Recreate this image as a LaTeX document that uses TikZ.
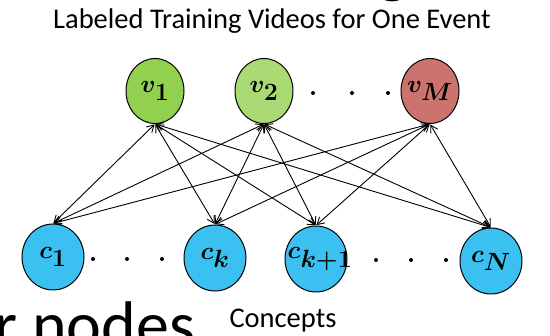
\documentclass[tikz,border=0pt]{standalone}
\usepackage{fontspec}
\usepackage{bm}
\setmainfont{Carlito}
\usetikzlibrary{arrows.meta,shapes.geometric}

\definecolor{vone}{HTML}{92D050}
\definecolor{vtwo}{HTML}{A9DA74}
\definecolor{vlast}{HTML}{CD736F}
\definecolor{concept}{HTML}{3AC1F1}

% label set in a zero-width box so the node keeps its fixed size
\newcommand{\nodelabel}[1]{\makebox[0pt]{$\bm{#1}$}}

\tikzset{
  video/.style={ellipse, draw=black, line width=1pt, minimum width=58pt, minimum height=65pt, inner sep=0pt,
    font=\fontsize{36}{36}\selectfont},
  concept/.style={ellipse, draw=black, line width=1pt, fill=concept, minimum width=62pt, minimum height=66pt, inner sep=0pt,
    font=\fontsize{36}{36}\selectfont},
  link/.style={line width=0.9pt, {Straight Barb[length=7pt,width=8pt]}-{Straight Barb[length=7pt,width=8pt]}, shorten <=0.5pt, shorten >=0.5pt},
  caption/.style={font=\fontsize{28.5}{30}\selectfont},
  big/.style={font=\fontsize{66}{70}\selectfont, inner sep=0pt},
  dot/.style={circle, fill=black, inner sep=0pt, minimum size=4pt}
}

\begin{document}
\begin{tikzpicture}[x=1pt, y=-1pt]
  \useasboundingbox (0,0) rectangle (550,336);
  \clip (0,0) rectangle (550,336);

  % slide text running past the edges
  \node[big, anchor=base] (heading) at (393,-9) {g};
  \node[big, anchor=base west] (footer) at (-6,348) {r nodes};

  \node[caption] (title) at (272,21) {Labeled Training Videos for One Event};
  \node[caption] (ctitle) at (283,321) {Concepts};

  % video nodes
  \node[video, fill=vone] (v1) at (155,91) {\nodelabel{v_1}};
  \node[video, fill=vtwo] (v2) at (264,91) {\nodelabel{v_2}};
  \node[video, fill=vlast] (vM) at (430,91) {\nodelabel{v_M}};

  % concept nodes
  \node[concept] (c1) at (53,257) {\nodelabel{c_1}};
  \node[concept] (ck) at (215,258) {\nodelabel{c_k}};
  \node[concept] (ck1) at (316,259) {\hspace*{8pt}\nodelabel{c_{k+1}}};
  \node[concept] (cN) at (491,261) {\nodelabel{c_N}};

  % ellipsis dots
  \foreach \x/\n in {313/a,352/b,388/c} \node[dot] (vd\n) at (\x,93) {};
  \foreach \x/\n in {93/a,127/b,162/c} \node[dot] (cl\n) at (\x,259) {};
  \foreach \x/\n in {376/a,411/b,446/c} \node[dot] (cr\n) at (\x,260) {};

  % every video linked to every concept
  \foreach \v in {v1,v2,vM}
    \foreach \c in {c1,ck,ck1,cN}
      \draw[link] (\v.south) -- (\c.north);
\end{tikzpicture}
\end{document}
